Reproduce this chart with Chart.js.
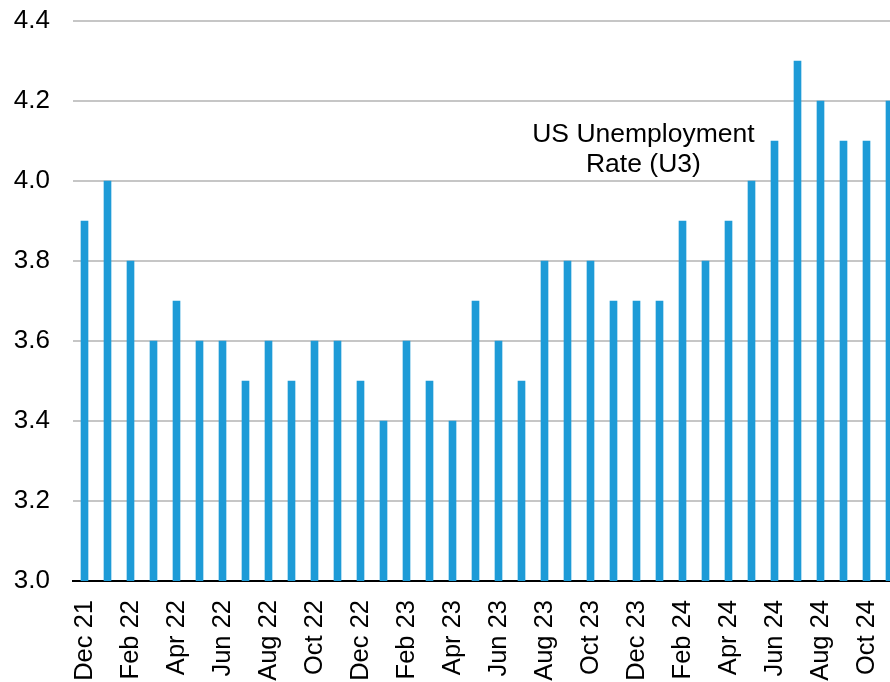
<!DOCTYPE html>
<html>
<head>
<meta charset="utf-8">
<script src="https://cdn.jsdelivr.net/npm/chart.js@4/dist/chart.umd.min.js"></script>
<style>
  html, body { margin: 0; padding: 0; background: #fff; overflow: hidden; width: 890px; height: 682px; }
  #wrap { position: relative; width: 901px; height: 682px; }
</style>
</head>
<body>
<div id="wrap"><canvas id="c" width="901" height="682"></canvas></div>
<script>
const months = [
  "Dec 21","Jan 22","Feb 22","Mar 22","Apr 22","May 22","Jun 22","Jul 22","Aug 22","Sep 22","Oct 22","Nov 22",
  "Dec 22","Jan 23","Feb 23","Mar 23","Apr 23","May 23","Jun 23","Jul 23","Aug 23","Sep 23","Oct 23","Nov 23",
  "Dec 23","Jan 24","Feb 24","Mar 24","Apr 24","May 24","Jun 24","Jul 24","Aug 24","Sep 24","Oct 24","Nov 24"
];
const unemployment = [
  3.9, 4.0, 3.8, 3.6, 3.7, 3.6, 3.6, 3.5, 3.6, 3.5, 3.6, 3.6,
  3.5, 3.4, 3.6, 3.5, 3.4, 3.7, 3.6, 3.5, 3.8, 3.8, 3.8, 3.7,
  3.7, 3.7, 3.9, 3.8, 3.9, 4.0, 4.1, 4.3, 4.2, 4.1, 4.1, 4.2
];
const yTicks = [3.0, 3.2, 3.4, 3.6, 3.8, 4.0, 4.2, 4.4];
const annotationLines = ["US Unemployment", "Rate (U3)"];
const annotationAnchor = { index: 24.3, values: [4.117, 4.04] };

const FONT = "'Liberation Sans', Arial, sans-serif";

const annotationPlugin = {
  id: 'annot',
  afterDatasetsDraw(chart) {
    const ctx = chart.ctx;
    const xs = chart.scales.x, ys = chart.scales.y;
    const x = xs.getPixelForValue(annotationAnchor.index);
    ctx.save();
    ctx.fillStyle = '#000';
    ctx.font = "26.5px " + FONT;
    ctx.textAlign = 'center';
    ctx.textBaseline = 'middle';
    annotationLines.forEach((t, i) => {
      ctx.fillText(t, x, ys.getPixelForValue(annotationAnchor.values[i]));
    });
    ctx.restore();
  }
};

new Chart(document.getElementById('c'), {
  type: 'bar',
  data: {
    labels: months,
    datasets: [{
      data: unemployment,
      backgroundColor: '#1E9BD7',
      borderWidth: 0,
      barThickness: 7
    }]
  },
  options: {
    responsive: false,
    animation: false,
    devicePixelRatio: 1,
    layout: { padding: 0 },
    plugins: { legend: { display: false }, tooltip: { enabled: false } },
    scales: {
      x: {
        afterFit: (s) => { s.height = 101; s.paddingLeft = 0; s.paddingRight = 0; },
        grid: { display: false, drawTicks: false },
        border: { display: true, color: '#000', width: 2 },
        ticks: {
          autoSkip: false,
          maxRotation: 90,
          minRotation: 90,
          padding: 19,
          color: '#000',
          font: { family: FONT, size: 25.5 },
          callback: function(v, i) { return i % 2 === 0 ? months[i] : ''; }
        }
      },
      y: {
        min: 3.0,
        max: 4.4,
        afterBuildTicks: (s) => { s.ticks = yTicks.map(v => ({ value: v })); },
        afterFit: (s) => { s.width = 73; s.paddingTop = 21; s.paddingBottom = 0; },
        grid: { color: '#C6C6C6', lineWidth: 2, drawTicks: false },
        border: { display: false },
        ticks: {
          padding: 23,
          color: '#000',
          font: { family: FONT, size: 26 },
          callback: (v) => Number(v).toFixed(1)
        }
      }
    }
  },
  plugins: [annotationPlugin]
});
</script>
</body>
</html>
